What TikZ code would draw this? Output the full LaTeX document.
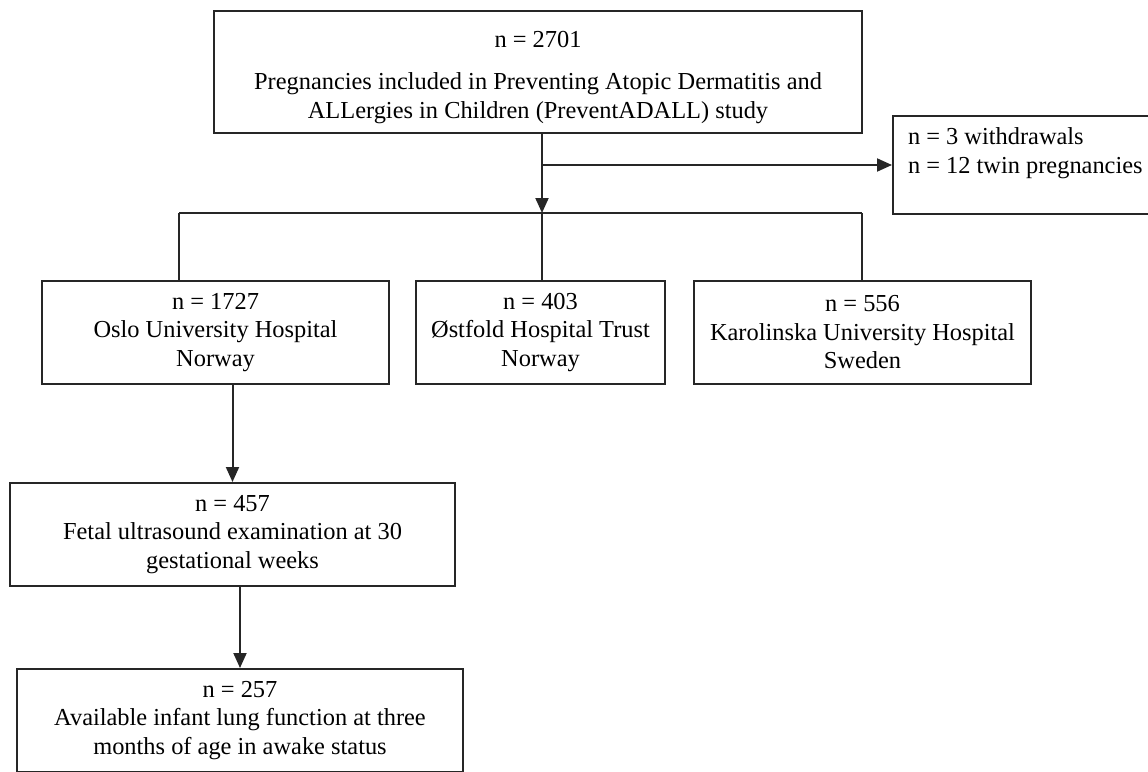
\documentclass[tikz,border=0pt]{standalone}
\usepackage{fontspec}
\setmainfont{Liberation Serif}
\usetikzlibrary{arrows.meta}

\begin{document}
\begin{tikzpicture}
	[x=1pt,y=-1pt,>={Triangle[length=15pt,width=13pt]},line width=2pt,
		base node/.style={rectangle,draw=black!85,align=center,inner sep=0pt,minimum height=103pt,font=\fontsize{24.4}{28.5}\selectfont},
		side node/.style={base node,align=left,anchor=north west,inner xsep=15pt,minimum height=98pt},
		link/.style={draw=black!85},
		arrow/.style={->,draw=black!85}]

	\useasboundingbox (0,0) rectangle (1148,771);

	\node[base node, minimum width=648pt, minimum height=122pt] (cohort) at (538,72)
	{\rule{0pt}{27pt}n = 2701\\[14pt]Pregnancies included in Preventing Atopic Dermatitis and\\ALLergies in Children (PreventADALL) study};
	\node[side node] (excl) at (892,115) {n = 3 withdrawals\\n = 12 twin pregnancies\\ \mbox{}};

	\node[base node, minimum width=347pt] (oslo) at (215.5,332.5) {n = 1727\\Oslo University Hospital\\Norway};
	\node[base node, minimum width=249pt] (ostfold) at (540.5,332.5) {n = 403\\Østfold Hospital Trust\\Norway};
	\node[base node, minimum width=337pt] (karolinska) at (862.5,332.5) {n = 556\\Karolinska University Hospital\\Sweden};

	\node[base node, minimum width=445pt] (fetal) at (232.5,534.5) {n = 457\\Fetal ultrasound examination at 30\\gestational weeks};
	\node[base node, minimum width=446pt] (lung) at (240,720.5) {n = 257\\Available infant lung function at three\\months of age in awake status};

	\coordinate (split) at (542,213);
	\coordinate (left end) at (179,213);
	\coordinate (right end) at (862,213);

	\draw[arrow] (split |- cohort.south) -- (split);
	\draw[arrow] (split |- excl.west) -- (excl.west);
	\draw[link] (left end) -- (right end);
	\draw[link] (left end) -- (left end |- oslo.north);
	\draw[link] (split) -- (split |- ostfold.north);
	\draw[link] (right end) -- (right end |- karolinska.north);
	\draw[arrow] (fetal.north |- oslo.south) -- (fetal.north);
	\draw[arrow] (lung.north |- fetal.south) -- (lung.north);
\end{tikzpicture}
\end{document}
